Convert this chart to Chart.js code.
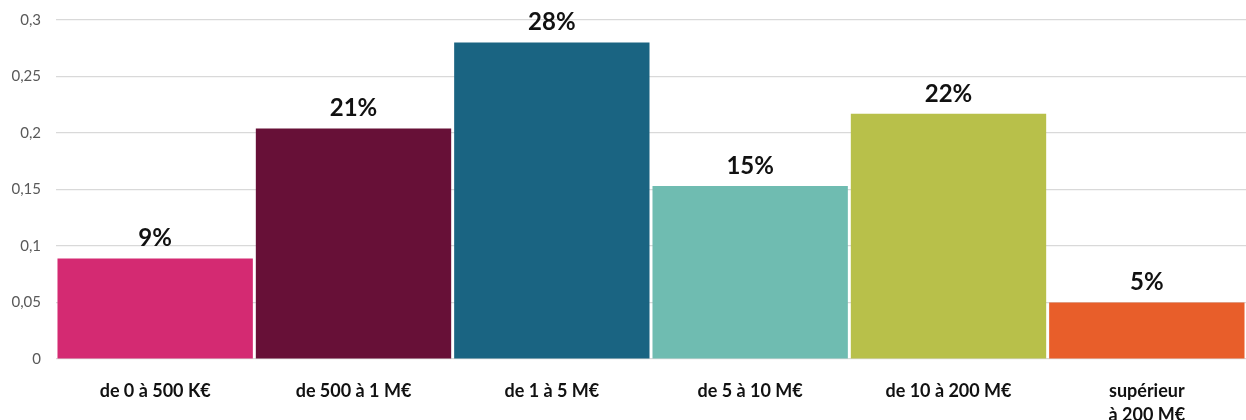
<!DOCTYPE html>
<html>
<head>
<meta charset="utf-8">
<script src="https://cdn.jsdelivr.net/npm/chart.js"></script>
<style>
  html, body { margin: 0; padding: 0; background: #fff; }
  #wrap { width: 1246px; height: 420px; }
</style>
</head>
<body>
<div id="wrap"><canvas id="myChart"></canvas></div>
<script>
// 데이터
const categories = ["de 0 à 500 K€", "de 500 à 1 M€", "de 1 à 5 M€", "de 5 à 10 M€", "de 10 à 200 M€", ["supérieur", "à 200 M€"]];
const values = [0.089, 0.204, 0.280, 0.153, 0.217, 0.050];
const valueLabels = ["9%", "21%", "28%", "15%", "22%", "5%"];
const barColors = ["#D42A72", "#671037", "#1A6482", "#6FBCB1", "#B8C04A", "#E85E2A"];
const yTicks = [0, 0.05, 0.1, 0.15, 0.2, 0.25, 0.3];

// 막대 위 라벨
const topLabels = {
  id: "topLabels",
  afterDatasetsDraw(chart) {
    const ctx = chart.ctx;
    const meta = chart.getDatasetMeta(0);
    ctx.save();
    ctx.font = "bold 24px Lato, sans-serif";
    ctx.fillStyle = "#111";
    ctx.textAlign = "center";
    ctx.textBaseline = "bottom";
    meta.data.forEach(function (bar, i) {
      ctx.fillText(valueLabels[i], bar.x, bar.y - 8);
    });
    ctx.restore();
  },
};

const ctx = document.getElementById("myChart").getContext("2d");
const myChart = new Chart(ctx, {
  type: "bar",
  data: {
    labels: categories,
    datasets: [
      {
        data: values,
        backgroundColor: barColors,
        borderWidth: 0,
        barPercentage: 0.985,
        categoryPercentage: 1,
      },
    ],
  },
  options: {
    responsive: true,
    maintainAspectRatio: false,
    animation: false,
    layout: { padding: { top: 20, right: 0, bottom: 0, left: 0 } },
    scales: {
      y: {
        min: 0,
        max: 0.3,
        afterFit: function (scale) {
          scale.width = 56;
          scale.paddingTop = 0;
          scale.paddingBottom = 0;
        },
        afterBuildTicks: function (scale) {
          scale.ticks = yTicks.map(function (v) { return { value: v }; });
        },
        border: { display: false },
        grid: { color: "#d9d9d9", lineWidth: 1.2, drawTicks: false },
        ticks: {
          padding: 15,
          color: "#595959",
          font: { family: "Lato, sans-serif", size: 15 },
          callback: function (value) {
            return String(value).replace(".", ",");
          },
        },
      },
      x: {
        afterFit: function (scale) { scale.height = 61; },
        border: { display: false },
        grid: { display: false },
        ticks: {
          padding: 12,
          color: "#111",
          font: { family: "Lato, sans-serif", size: 18, weight: "bold", lineHeight: 1.35 },
        },
      },
    },
    plugins: {
      legend: { display: false },
      tooltip: { enabled: false },
    },
  },
  plugins: [topLabels],
});
</script>
</body>
</html>
